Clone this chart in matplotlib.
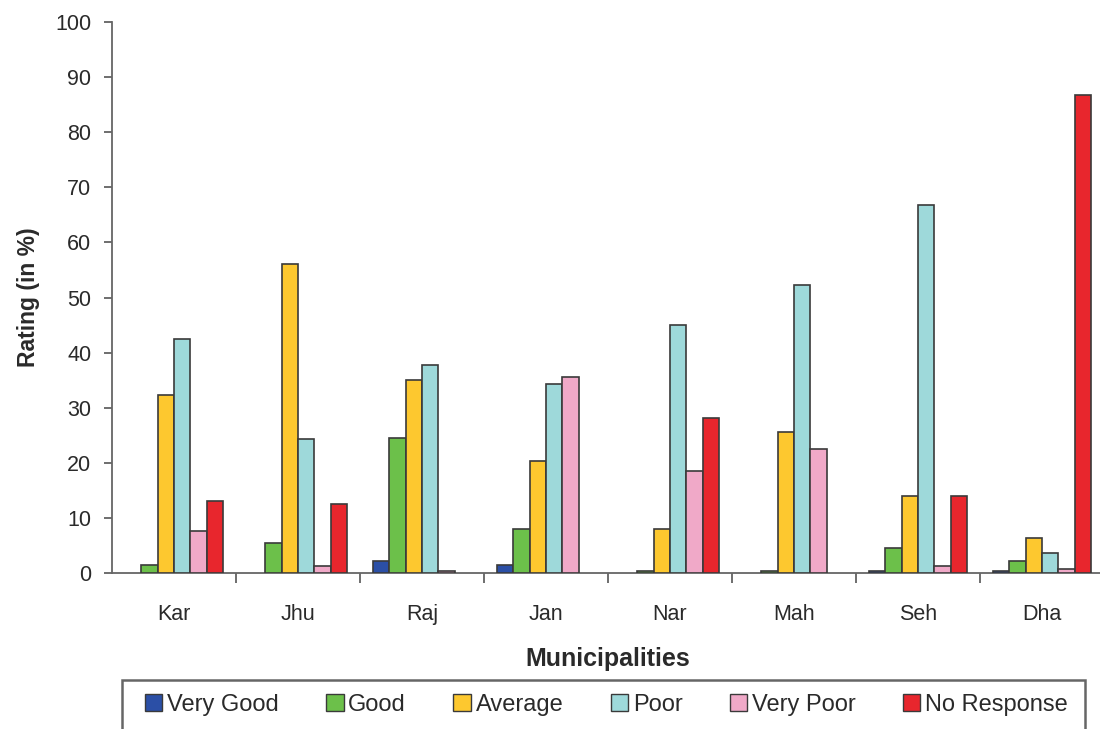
import numpy as np
import matplotlib
matplotlib.use("Agg")
import matplotlib.pyplot as plt
from matplotlib.patches import Rectangle

plt.rcParams['font.family'] = ['Liberation Sans', 'DejaVu Sans']

municipalities = ["Kar", "Jhu", "Raj", "Jan", "Nar", "Mah", "Seh", "Dha"]
series_names = ["Very Good", "Good", "Average", "Poor", "Very Poor", "No Response"]

very_good   = [0.0, 0.0, 2.2, 1.5, 0.0, 0.0, 0.3, 0.3]
good        = [1.5, 5.5, 24.5, 8.0, 0.3, 0.3, 4.5, 2.2]
average     = [32.3, 56.0, 35.0, 20.3, 7.9, 25.5, 13.9, 6.4]
poor        = [42.5, 24.3, 37.8, 34.3, 45.0, 52.3, 66.7, 3.7]
very_poor   = [7.7, 1.3, 0.3, 35.5, 18.6, 22.5, 1.3, 0.7]
no_response = [13.0, 12.6, 0.0, 0.0, 28.2, 0.0, 13.9, 86.7]

series_values = [very_good, good, average, poor, very_poor, no_response]
colors = ["#2B4FA6", "#6CC04A", "#FDC82F", "#9ED9DA", "#F0A9C8", "#E8262D"]

W, H = 1100, 729
fig = plt.figure(figsize=(W / 100, H / 100), dpi=100)
ax = fig.add_axes([112 / W, 1 - 573 / H, 992 / W, 551 / H])

x = np.arange(len(municipalities))
width = 0.133
for i, (name, vals, col) in enumerate(zip(series_names, series_values, colors)):
    vals = np.asarray(vals)
    lw = np.where(vals > 0, 1.2, 0.0)
    ax.bar(x + (i - 2.5) * width, vals, width, color=col, edgecolor="#3a3a3a",
           linewidth=lw, label=name, zorder=3)

ax.set_xlim(-0.5, len(municipalities) - 0.5)
ax.set_ylim(0, 100)
ax.set_yticks(np.arange(0, 101, 10))
ax.set_xticks(x)
ax.set_xticklabels(municipalities)
ax.set_xticks(np.arange(0.5, len(municipalities) - 0.5, 1), minor=True)
ax.tick_params(axis="x", which="major", length=0, pad=22, labelsize=15.5, colors="#2a2a2a")
ax.tick_params(axis="x", which="minor", length=7, width=1.2, color="#555555")
ax.tick_params(axis="y", length=6, width=1.2, color="#555555", labelsize=15.5,
               labelcolor="#2a2a2a", pad=9)

for s in ["top", "right"]:
    ax.spines[s].set_visible(False)
for s in ["left", "bottom"]:
    ax.spines[s].set_color("#666666")
    ax.spines[s].set_linewidth(1.3)

ax.set_ylabel("Rating (in %)", fontsize=16.5, fontweight="bold", labelpad=11, color="#2a2a2a")
ax.set_xlabel("Municipalities", fontsize=18, fontweight="bold", labelpad=16, color="#2a2a2a")

# legend box along the bottom edge
fig.patches.append(Rectangle((122 / W, 1 - 731 / H), 963 / W, 51 / H,
                             transform=fig.transFigure, facecolor="white",
                             edgecolor="#666666", linewidth=1.8, zorder=0))

handles, labels = ax.get_legend_handles_labels()
leg = fig.legend(handles, labels, loc="center left",
                 bbox_to_anchor=(145 / W, 1 - 705 / H),
                 ncol=6, frameon=False, fontsize=17,
                 handlelength=0.74, handleheight=0.74, handletextpad=0.2,
                 columnspacing=2.0, borderaxespad=0, borderpad=0)
for h in leg.legend_handles:
    h.set_edgecolor("#3a3a3a")
    h.set_linewidth(1.0)
for t in leg.get_texts():
    t.set_color("#2a2a2a")

fig.savefig("out.png", dpi=100)
